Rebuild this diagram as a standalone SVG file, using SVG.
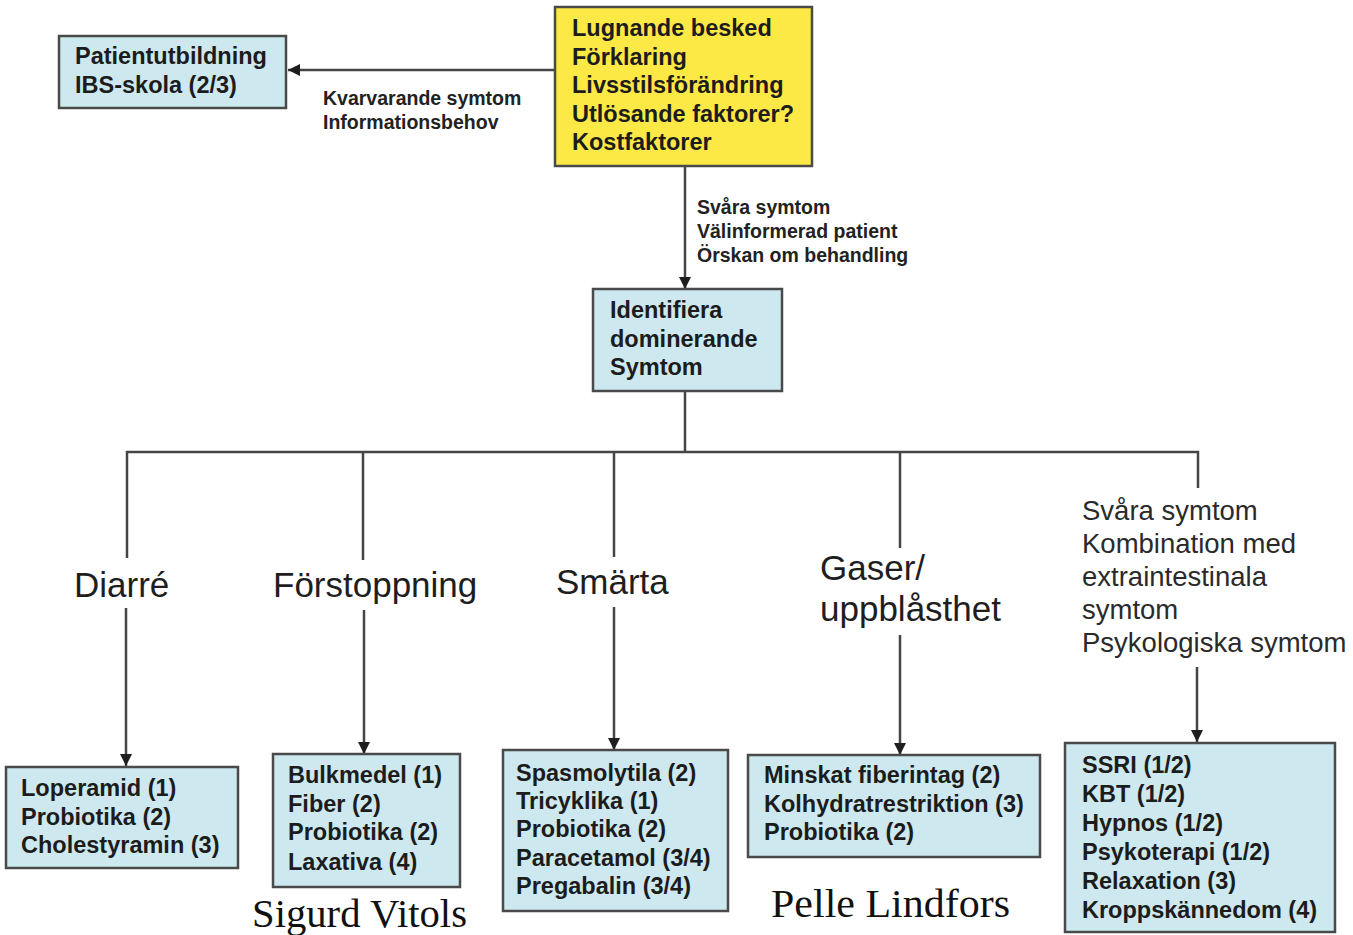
<svg xmlns="http://www.w3.org/2000/svg" width="1353" height="935" viewBox="0 0 1353 935">
<defs>
<style>
.box{fill:#cde9ef;stroke:#4a4a4a;stroke-width:2.5}
.ybox{fill:#fde945;stroke:#4a4a4a;stroke-width:2.5}
.ln{fill:none;stroke:#454545;stroke-width:2.5}
.b{font-family:"Liberation Sans",Arial,sans-serif;font-weight:bold;font-size:23.5px;fill:#1c1c1c}
.s{font-family:"Liberation Sans",Arial,sans-serif;font-weight:bold;font-size:19.5px;fill:#222}
.c{font-family:"Liberation Sans",Arial,sans-serif;font-size:35px;fill:#1e1e1e}
.r{font-family:"Liberation Sans",Arial,sans-serif;font-size:27.5px;fill:#2a2a2a}
.n{font-family:"Liberation Serif","Times New Roman",serif;fill:#111}
</style>
<marker id="ah" markerUnits="userSpaceOnUse" markerWidth="14" markerHeight="14" refX="12" refY="6" orient="auto">
<path d="M0,0 L12,6 L0,12 z" fill="#1e1e1e"/>
</marker>
</defs>
<rect width="1353" height="935" fill="#ffffff"/>

<g id="connectors">
<line class="ln" x1="555" y1="70" x2="288" y2="70" marker-end="url(#ah)"/>
<line class="ln" x1="685" y1="166" x2="685" y2="289" marker-end="url(#ah)"/>
<polyline class="ln" points="685,391 685,452"/>
<polyline class="ln" points="127,558 127,452 1198,452 1198,488"/>
<line class="ln" x1="363" y1="452" x2="363" y2="560"/>
<line class="ln" x1="614" y1="452" x2="614" y2="557"/>
<line class="ln" x1="900" y1="452" x2="900" y2="548"/>
<line class="ln" x1="126" y1="608" x2="126" y2="766" marker-end="url(#ah)"/>
<line class="ln" x1="364" y1="610" x2="364" y2="754" marker-end="url(#ah)"/>
<line class="ln" x1="614" y1="607" x2="614" y2="750" marker-end="url(#ah)"/>
<line class="ln" x1="900" y1="635" x2="900" y2="755" marker-end="url(#ah)"/>
<line class="ln" x1="1197" y1="667" x2="1197" y2="742" marker-end="url(#ah)"/>
<text class="s" x="323" y="105">Kvarvarande symtom</text>
<text class="s" x="323" y="129">Informationsbehov</text>
<text class="s" x="697" y="214">Svåra symtom</text>
<text class="s" x="697" y="238">Välinformerad patient</text>
<text class="s" x="697" y="262">Örskan om behandling</text>
</g>

<g id="patientutbildning">
<rect class="box" x="59" y="36" width="227" height="72"/>
<text class="b" x="75" y="64">Patientutbildning</text>
<text class="b" x="75" y="93">IBS-skola (2/3)</text>
</g>

<g id="lugnande">
<rect class="ybox" x="555" y="7" width="257" height="159"/>
<text class="b" x="572" y="36">Lugnande besked</text>
<text class="b" x="572" y="65">Förklaring</text>
<text class="b" x="572" y="93">Livsstilsförändring</text>
<text class="b" x="572" y="122">Utlösande faktorer?</text>
<text class="b" x="572" y="150">Kostfaktorer</text>
</g>

<g id="identifiera">
<rect class="box" x="593" y="289" width="189" height="102"/>
<text class="b" x="610" y="318">Identifiera</text>
<text class="b" x="610" y="347">dominerande</text>
<text class="b" x="610" y="375">Symtom</text>
</g>

<g id="diarre">
<text class="c" x="74" y="597">Diarré</text>
</g>
<g id="forstoppning">
<text class="c" x="273" y="597">Förstoppning</text>
</g>
<g id="smarta">
<text class="c" x="556" y="594">Smärta</text>
</g>
<g id="gaser">
<text class="c" x="820" y="580">Gaser/</text>
<text class="c" x="820" y="621">uppblåsthet</text>
</g>
<g id="svara">
<text class="r" x="1082" y="520">Svåra symtom</text>
<text class="r" x="1082" y="553">Kombination med</text>
<text class="r" x="1082" y="586">extraintestinala</text>
<text class="r" x="1082" y="619">symtom</text>
<text class="r" x="1082" y="652">Psykologiska symtom</text>
</g>

<g id="diarre-beh">
<rect class="box" x="6" y="767" width="232" height="101"/>
<text class="b" x="21" y="796">Loperamid (1)</text>
<text class="b" x="21" y="825">Probiotika (2)</text>
<text class="b" x="21" y="853">Cholestyramin (3)</text>
</g>

<g id="forstoppning-beh">
<rect class="box" x="273" y="754" width="187" height="133"/>
<text class="b" x="288" y="783">Bulkmedel (1)</text>
<text class="b" x="288" y="812">Fiber (2)</text>
<text class="b" x="288" y="840">Probiotika (2)</text>
<text class="b" x="288" y="870">Laxativa (4)</text>
</g>

<g id="smarta-beh">
<rect class="box" x="503" y="750" width="225" height="161"/>
<text class="b" x="516" y="781">Spasmolytila (2)</text>
<text class="b" x="516" y="809">Tricyklika (1)</text>
<text class="b" x="516" y="837">Probiotika (2)</text>
<text class="b" x="516" y="866">Paracetamol (3/4)</text>
<text class="b" x="516" y="894">Pregabalin (3/4)</text>
</g>

<g id="gaser-beh">
<rect class="box" x="748" y="755" width="292" height="102"/>
<text class="b" x="764" y="783">Minskat fiberintag (2)</text>
<text class="b" x="764" y="812">Kolhydratrestriktion (3)</text>
<text class="b" x="764" y="840">Probiotika (2)</text>
</g>

<g id="psyk-beh">
<rect class="box" x="1065" y="743" width="270" height="189"/>
<text class="b" x="1082" y="773">SSRI (1/2)</text>
<text class="b" x="1082" y="802">KBT (1/2)</text>
<text class="b" x="1082" y="831">Hypnos (1/2)</text>
<text class="b" x="1082" y="860">Psykoterapi (1/2)</text>
<text class="b" x="1082" y="889">Relaxation (3)</text>
<text class="b" x="1082" y="918">Kroppskännedom (4)</text>
</g>

<text class="n" x="252" y="927" font-size="39" textLength="215" lengthAdjust="spacingAndGlyphs">Sigurd Vitols</text>
<text class="n" x="771" y="917" font-size="41" textLength="239" lengthAdjust="spacingAndGlyphs">Pelle Lindfors</text>
</svg>
